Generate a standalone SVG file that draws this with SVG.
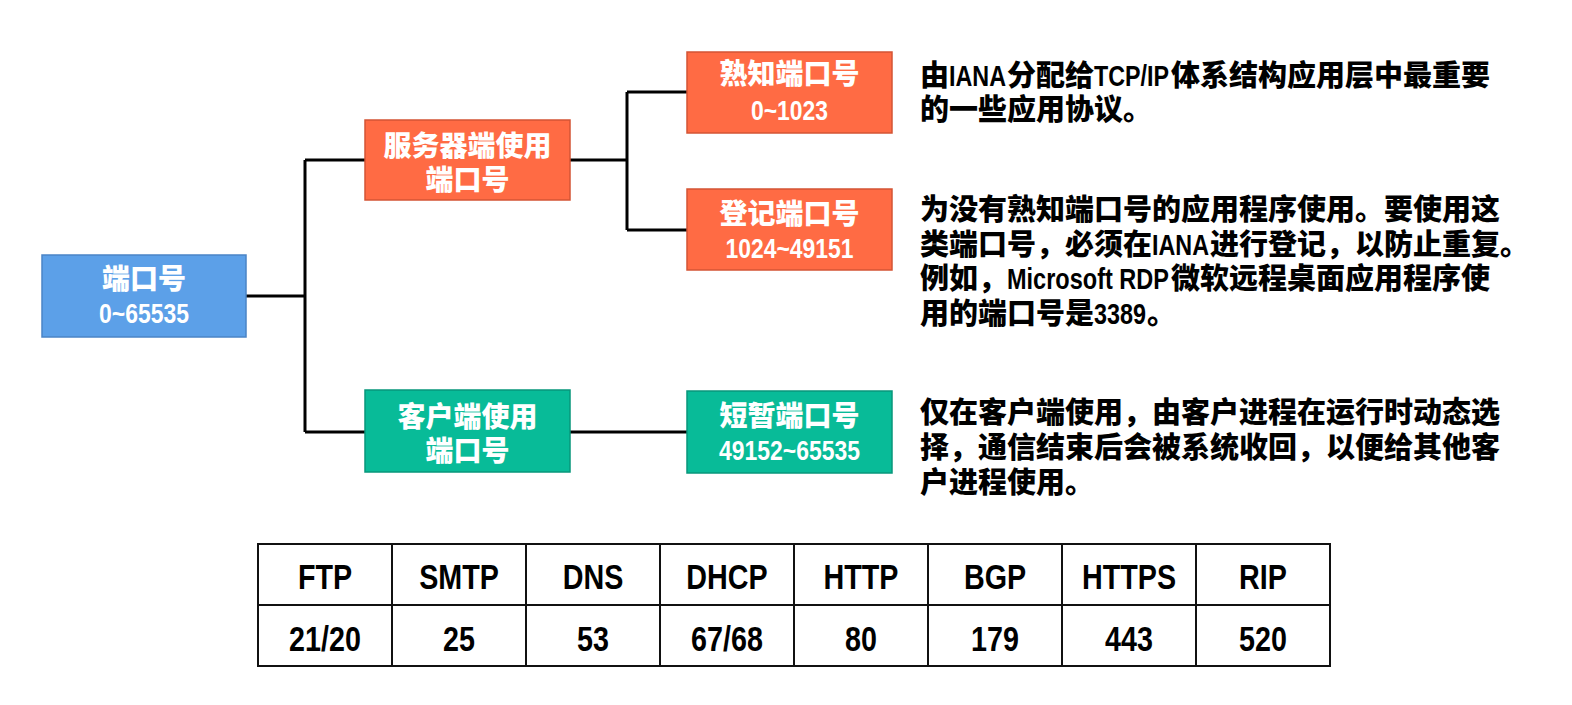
<svg xmlns="http://www.w3.org/2000/svg" width="1572" height="705" viewBox="0 0 1572 705">
<style>
.blue{fill:#5CA0E8;stroke:#4A84C6;stroke-width:1.5}
.orange{fill:#FF6B44;stroke:#D45434;stroke-width:1.5}
.teal{fill:#08BB98;stroke:#07977B;stroke-width:1.5}
.lbl{font-family:"Noto Sans CJK SC",sans-serif;font-weight:900;font-size:28px;fill:#fff;text-anchor:middle}
.num{font-family:"Liberation Sans",Arial,sans-serif;font-weight:bold;font-size:28px}
.cj{font-family:"Noto Sans CJK SC",sans-serif;font-weight:900;font-size:29px;fill:#000}
.la{font-family:"Liberation Sans",Arial,sans-serif;font-weight:bold}
.conn{fill:none;stroke:#000;stroke-width:3}
.tbl{fill:none;stroke:#111;stroke-width:2}
.cell{font-family:"Liberation Sans",Arial,sans-serif;font-weight:bold;font-size:35px;fill:#000;text-anchor:middle}
</style>
<rect width="1572" height="705" fill="#fff"/>
<g id="connectors">
<path class="conn" d="M246,296 H305 M305,160 V432 M305,160 H365 M305,432 H365"/>
<path class="conn" d="M570,160 H627 M627,92 V230 M627,92 H687 M627,230 H687"/>
<path class="conn" d="M570,432 H687"/>
</g>
<g id="root">
<rect class="blue" x="42" y="255" width="204" height="82"/>
<text class="lbl"><tspan x="144" y="289">端口号</tspan><tspan class="num" x="144" y="323" textLength="90" lengthAdjust="spacingAndGlyphs">0~65535</tspan></text>
</g>
<g id="server">
<rect class="orange" x="365" y="120" width="205" height="80"/>
<text class="lbl"><tspan x="467.5" y="156">服务器端使用</tspan><tspan x="467.5" y="190">端口号</tspan></text>
</g>
<g id="client">
<rect class="teal" x="365" y="390" width="205" height="82"/>
<text class="lbl"><tspan x="467.5" y="427">客户端使用</tspan><tspan x="467.5" y="461">端口号</tspan></text>
</g>
<g id="wellknown">
<rect class="orange" x="687" y="52" width="205" height="81"/>
<text class="lbl"><tspan x="789.5" y="84">熟知端口号</tspan><tspan class="num" x="789.5" y="120" textLength="77" lengthAdjust="spacingAndGlyphs">0~1023</tspan></text>
</g>
<g id="registered">
<rect class="orange" x="687" y="189" width="205" height="81"/>
<text class="lbl"><tspan x="789.5" y="224">登记端口号</tspan><tspan class="num" x="789.5" y="258" textLength="128" lengthAdjust="spacingAndGlyphs">1024~49151</tspan></text>
</g>
<g id="ephemeral">
<rect class="teal" x="687" y="391" width="205" height="82"/>
<text class="lbl"><tspan x="789.5" y="426">短暂端口号</tspan><tspan class="num" x="789.5" y="460" textLength="141" lengthAdjust="spacingAndGlyphs">49152~65535</tspan></text>
</g>
<g id="desc-wellknown">
<text class="cj"><tspan x="920" y="86">由</tspan><tspan class="la" x="949" y="86" textLength="57" lengthAdjust="spacingAndGlyphs">IANA</tspan><tspan x="1007" y="86">分配给</tspan><tspan class="la" x="1094" y="86" textLength="75" lengthAdjust="spacingAndGlyphs">TCP/IP</tspan><tspan x="1171" y="86">体系结构应用层中最重要</tspan><tspan x="920" y="120">的一些应用协议。</tspan></text>
</g>
<g id="desc-registered">
<text class="cj"><tspan x="920" y="220">为没有熟知端口号的应用程序使用。要使用这</tspan><tspan x="920" y="255">类端口号，必须在</tspan><tspan class="la" x="1152" y="255" textLength="57" lengthAdjust="spacingAndGlyphs">IANA</tspan><tspan x="1210" y="255">进行登记，以防止重复。</tspan><tspan x="920" y="289">例如，</tspan><tspan class="la" x="1007" y="289" textLength="162" lengthAdjust="spacingAndGlyphs">Microsoft RDP</tspan><tspan x="1171" y="289">微软远程桌面应用程序使</tspan><tspan x="920" y="324">用的端口号是</tspan><tspan class="la" x="1094" y="324" textLength="52" lengthAdjust="spacingAndGlyphs">3389</tspan><tspan x="1147" y="324">。</tspan></text>
</g>
<g id="desc-ephemeral">
<text class="cj"><tspan x="920" y="423">仅在客户端使用，由客户进程在运行时动态选</tspan><tspan x="920" y="458">择，通信结束后会被系统收回，以便给其他客</tspan><tspan x="920" y="493">户进程使用。</tspan></text>
</g>
<g id="table">
<rect class="tbl" x="258" y="544" width="1072" height="122"/>
<path class="tbl" d="M258,605 H1330 M392,544 V666 M526,544 V666 M660,544 V666 M794,544 V666 M928,544 V666 M1062,544 V666 M1196,544 V666"/>
<text class="cell" transform="translate(325,589) scale(0.82,1)">FTP</text>
<text class="cell" transform="translate(459,589) scale(0.82,1)">SMTP</text>
<text class="cell" transform="translate(593,589) scale(0.82,1)">DNS</text>
<text class="cell" transform="translate(727,589) scale(0.82,1)">DHCP</text>
<text class="cell" transform="translate(861,589) scale(0.82,1)">HTTP</text>
<text class="cell" transform="translate(995,589) scale(0.82,1)">BGP</text>
<text class="cell" transform="translate(1129,589) scale(0.82,1)">HTTPS</text>
<text class="cell" transform="translate(1263,589) scale(0.82,1)">RIP</text>
<text class="cell" transform="translate(325,651) scale(0.82,1)">21/20</text>
<text class="cell" transform="translate(459,651) scale(0.82,1)">25</text>
<text class="cell" transform="translate(593,651) scale(0.82,1)">53</text>
<text class="cell" transform="translate(727,651) scale(0.82,1)">67/68</text>
<text class="cell" transform="translate(861,651) scale(0.82,1)">80</text>
<text class="cell" transform="translate(995,651) scale(0.82,1)">179</text>
<text class="cell" transform="translate(1129,651) scale(0.82,1)">443</text>
<text class="cell" transform="translate(1263,651) scale(0.82,1)">520</text>
</g>
</svg>
